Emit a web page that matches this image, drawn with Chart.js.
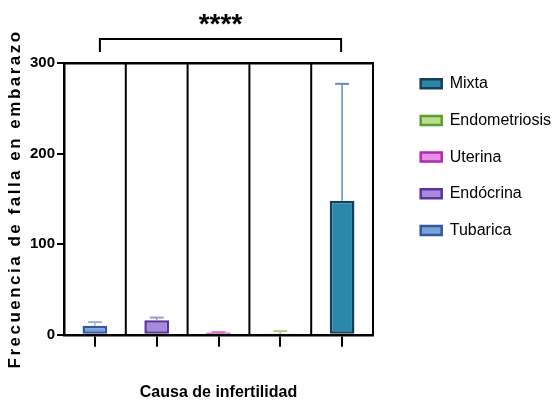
<!DOCTYPE html>
<html>
<head>
<meta charset="utf-8">
<script src="https://cdn.jsdelivr.net/npm/chart.js@4/dist/chart.umd.min.js"></script>
<style>
  html, body { margin: 0; padding: 0; background: #ffffff; }
  #wrap { width: 555px; height: 407px; }
</style>
</head>
<body>
<div id="wrap"><canvas id="chart" width="555" height="407"></canvas></div>
<script>
// Failed pregnancies by cause of infertility (mean with upper SD)
const categories = ['Tubarica', 'Endócrina', 'Uterina', 'Endometriosis', 'Mixta'];
const meanValues = [10, 16, 2.5, 1, 148];
const sdValues = [4, 3, 0.5, 3, 129];
const yTickValues = [0, 100, 200, 300];
const significance = '****';

const fillColors = ['#7e9fd8', '#a68bd8', '#ea8fe6', '#b9de8c', '#2c88ab'];
const edgeColors = ['#32589f', '#5a339c', '#b02aae', '#5c9e2e', '#173f57'];
const whiskerColors = ['#9fb3d6', '#a995cf', '#cf7fcf', '#a9cf8a', '#5f8fae'];

const plain = "'Liberation Sans', Arial, sans-serif";
const LEGEND_WIDTH = 155;

const datasets = categories.map((name, i) => ({
  label: name,
  data: categories.map((_, j) => (j === i ? meanValues[i] : null)),
  backgroundColor: fillColors[i],
  borderColor: edgeColors[i],
  borderWidth: 2.5,
  borderSkipped: false,
  skipNull: true,
  categoryPercentage: 0.8,
  barPercentage: 0.5
}));

// Separators between groups, drawn from the category scale
const separators = {
  id: 'separators',
  beforeDatasetsDraw(chart) {
    const { ctx, chartArea } = chart;
    const x = chart.scales.x;
    ctx.save();
    ctx.strokeStyle = '#000';
    ctx.lineWidth = 2;
    for (let i = 0; i < categories.length - 1; i++) {
      const px = (x.getPixelForValue(i) + x.getPixelForValue(i + 1)) / 2;
      ctx.beginPath();
      ctx.moveTo(px, chartArea.top);
      ctx.lineTo(px, chartArea.bottom);
      ctx.stroke();
    }
    ctx.restore();
  }
};

// Upper SD whiskers
const whiskers = {
  id: 'whiskers',
  afterDatasetsDraw(chart) {
    const { ctx } = chart;
    const y = chart.scales.y;
    ctx.save();
    categories.forEach((_, i) => {
      const bar = chart.getDatasetMeta(i).data[i];
      if (!bar) return;
      const x = bar.x;
      const y0 = y.getPixelForValue(meanValues[i]);
      const y1 = y.getPixelForValue(meanValues[i] + sdValues[i]);
      ctx.strokeStyle = whiskerColors[i];
      ctx.lineWidth = 1.5;
      ctx.beginPath();
      ctx.moveTo(x, y0);
      ctx.lineTo(x, y1);
      ctx.stroke();
      ctx.lineWidth = 2;
      ctx.beginPath();
      ctx.moveTo(x - 7, y1);
      ctx.lineTo(x + 7, y1);
      ctx.stroke();
    });
    ctx.restore();
  }
};

// Significance bracket between the first and last groups
const bracket = {
  id: 'bracket',
  afterDraw(chart) {
    const { ctx, chartArea } = chart;
    const x = chart.scales.x;
    const xa = x.getPixelForValue(0) + 5;
    const xb = x.getPixelForValue(categories.length - 1) - 1;
    const yTop = chartArea.top - 24;
    const yLeg = chartArea.top - 11;
    ctx.save();
    ctx.strokeStyle = '#000';
    ctx.lineWidth = 2;
    ctx.beginPath();
    ctx.moveTo(xa, yLeg);
    ctx.lineTo(xa, yTop);
    ctx.lineTo(xb, yTop);
    ctx.lineTo(xb, yLeg);
    ctx.stroke();
    ctx.fillStyle = '#000';
    ctx.font = 'bold 28px ' + plain;
    ctx.textAlign = 'center';
    ctx.textBaseline = 'alphabetic';
    ctx.fillText(significance, (xa + xb) / 2, chartArea.top - 30);
    ctx.restore();
  }
};

// Wider tracking for the vertical axis title; fixed legend column width
const tweaks = {
  id: 'tweaks',
  beforeUpdate(chart) {
    const lg = chart.legend;
    if (lg && !lg.__fixed) {
      const origFit = lg.fit;
      lg.fit = function (...args) {
        origFit.apply(this, args);
        this.width = LEGEND_WIDTH;
      };
      lg.__fixed = true;
    }
  },
  beforeDraw(chart) {
    const s = chart.scales.y;
    if (s && !s.__spaced) {
      const orig = s.drawTitle;
      s.drawTitle = function (...args) {
        const c = this.ctx;
        c.save();
        c.letterSpacing = '2.5px';
        orig.apply(this, args);
        c.restore();
      };
      s.__spaced = true;
    }
  }
};

new Chart(document.getElementById('chart'), {
  type: 'bar',
  data: { labels: categories, datasets },
  plugins: [separators, whiskers, bracket, tweaks],
  options: {
    responsive: false,
    animation: false,
    devicePixelRatio: 1,
    layout: { padding: { top: 55, left: 0, right: 0, bottom: 0 } },
    plugins: {
      tooltip: { enabled: false },
      legend: {
        position: 'right',
        align: 'start',
        reverse: true,
        labels: {
          color: '#000',
          font: { family: plain, size: 16 },
          boxWidth: 21,
          boxHeight: 9,
          padding: 20.7
        }
      }
    },
    scales: {
      x: {
        type: 'category',
        offset: true,
        ticks: { display: false },
        grid: { display: true, offset: false, drawOnChartArea: false, drawTicks: true, tickLength: 12, color: '#000', lineWidth: 2 },
        border: { display: true, color: '#000', width: 2.5 },
        title: {
          display: true,
          text: 'Causa de infertilidad',
          color: '#000',
          font: { family: plain, size: 16, weight: 'bold' },
          padding: { top: 36, bottom: 5 }
        }
      },
      xTop: {
        type: 'category',
        position: 'top',
        display: true,
        ticks: { display: false },
        grid: { display: false, drawTicks: false },
        border: { display: true, color: '#000', width: 2.5 },
        afterFit(scale) { scale.height = 8; }
      },
      y: {
        min: 0,
        max: 300,
        afterBuildTicks(scale) { scale.ticks = yTickValues.map(v => ({ value: v })); },
        ticks: { color: '#000', font: { family: plain, size: 15, weight: 'bold' }, padding: 2 },
        grid: { display: true, drawOnChartArea: false, drawTicks: true, tickLength: 7, color: '#000', lineWidth: 2 },
        border: { display: true, color: '#000', width: 2.5 },
        title: {
          display: true,
          text: 'Frecuencia de falla en embarazo',
          color: '#000',
          font: { family: plain, size: 17, weight: 'bold' },
          padding: { top: 5, bottom: 0 }
        },
        afterFit(scale) { scale.width = 64; }
      },
      yGap: {
        position: 'right',
        display: true,
        min: 0,
        max: 300,
        ticks: { display: false },
        grid: { display: false, drawTicks: false },
        border: { display: true, color: '#000', width: 2 },
        afterFit(scale) { scale.width = 27; }
      }
    }
  }
});
</script>
</body>
</html>
